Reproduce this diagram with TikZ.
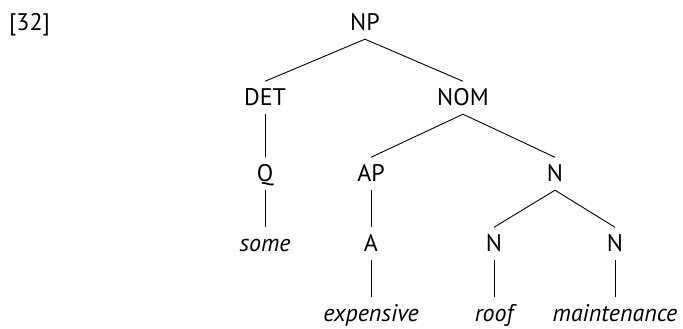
\documentclass[tikz,border=0pt]{standalone}
\usepackage{fontspec}
\setmainfont{PT Sans}
\begin{document}
\begin{tikzpicture}[x=1pt,y=1pt,
  cat/.style={anchor=base, inner xsep=1pt, inner ysep=8pt, text height=16.5pt, text depth=0pt, font=\fontsize{24}{28}\selectfont},
  word/.style={cat, font=\fontsize{24}{28}\selectfont\itshape},
  branch/.style={line width=0.9pt}]
\useasboundingbox (0,0) rectangle (683,329);
\node[cat, anchor=base west] (ex) at (8,298) {[32]};
\node[cat] (np) at (365,298) {NP};
\node[cat] (det) at (265,223) {DET};
\node[cat] (nom) at (463,223) {NOM};
\node[cat] (q) at (265,147) {Q};
\node[cat] (ap) at (371,147) {AP};
\node[cat] (n) at (555,147) {N};
\node[word] (some) at (265,77) {some};
\node[cat] (a) at (371,77) {A};
\node[cat] (nr) at (494,77) {N};
\node[cat] (nm) at (615,77) {N};
\node[word] (exp) at (371,7) {expensive};
\node[word] (roof) at (494,7) {roof};
\node[word] (main) at (615,7) {maintenance};
\draw[branch] (np.south) -- (det.north);
\draw[branch] (np.south) -- (nom.north);
\draw[branch] (det.south) -- (q.north);
\draw[branch] (nom.south) -- (ap.north);
\draw[branch] (nom.south) -- (n.north);
\draw[branch] (q.south) -- (some.north);
\draw[branch] (ap.south) -- (a.north);
\draw[branch] (n.south) -- (nr.north);
\draw[branch] (n.south) -- (nm.north);
\draw[branch] (a.south) -- (exp.north);
\draw[branch] (nr.south) -- (roof.north);
\draw[branch] (nm.south) -- (main.north);
\end{tikzpicture}
\end{document}
